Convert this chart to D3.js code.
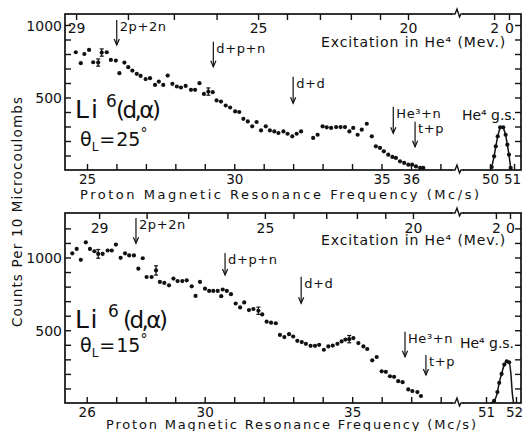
<!DOCTYPE html>
<html>
<head>
<meta charset="utf-8">
<script src="https://cdn.jsdelivr.net/npm/d3@7"></script>
<style>
  body { margin: 0; background: #fff; }
  svg { display: block; background: #fff; }
  text { font-family: "DejaVu Sans", sans-serif; fill: #111; }
</style>
</head>
<body>
<svg id="chart" width="523" height="431"></svg>
<script>
// ---- Li6(d,alpha) spectrum, theta_L = 25 deg ----
const topFreq = [24.62,24.79,24.91,25.07,25.21,25.38,25.50,25.67,25.81,25.98,26.10,26.27,26.40,26.54,26.69,26.82,26.99,27.14,27.31,27.44,27.59,27.74,27.90,28.05,28.19,28.35,28.53,28.67,28.82,28.97,29.12,29.27,29.40,29.55,29.71,29.86,30.03,30.17,30.31,30.46,30.61,30.76,30.91,31.07,31.21,31.36,31.50,31.67,31.81,31.97,32.12,32.27,32.68,32.83,33.00,33.14,33.29,33.46,33.61,33.76,33.91,34.04,34.19,34.33,34.50,34.67,34.81,34.95,35.08,35.23,35.37,35.49,35.63,35.77,35.91,36.04,36.17,36.31,36.42];
const topCounts = [812,737,800,828,743,741,810,812,759,755,668,741,709,686,663,649,627,633,587,610,587,651,594,576,569,580,553,553,599,525,541,537,480,472,445,431,404,400,353,335,301,331,273,301,273,266,255,266,250,232,250,266,221,243,301,294,290,296,296,296,266,290,243,278,319,232,163,152,129,106,90,83,60,49,37,37,25,14,14];
const topErrFreq = [25.38, 25.50, 29.12];
const topErrCounts = [741, 810, 541];
const topErrSize = [25, 25, 25];
// He4 ground-state peak
const topPeakFreq = [50.07,50.17,50.24,50.32,50.42,50.55,50.65,50.72,50.79,50.86];
const topPeakCounts = [20,94,163,232,294,294,243,175,106,14];
const topFitFreq = [50.0,50.07,50.17,50.24,50.32,50.42,50.55,50.65,50.72,50.79,50.86,50.9];
const topFitCounts = [0,20,94,163,232,294,294,243,175,106,14,0];
// reaction thresholds
const topReactLabel = ["2p+2n","d+p+n","d+d","He³+n","t+p"];
const topReactFreq = [26.01, 29.29, 32.0, 35.4, 36.14];
const topReactFrom = [1034, 885, 643, 437, 333];
const topReactTo = [862, 712, 460, 253, 161];
// excitation energy in He4 (MeV) along the upper edge
const topExcValue = [29,28,27,26,25,24,23,22,21,20,2,0];
const topExcFreq = [24.63,26.39,27.95,29.40,30.81,31.79,32.91,33.96,34.95,35.90,50.17,50.79];

// ---- Li6(d,alpha) spectrum, theta_L = 15 deg ----
const bottomFreq = [25.51,25.66,25.80,25.97,26.11,26.26,26.39,26.54,26.71,26.85,26.99,27.15,27.30,27.44,27.60,27.75,27.90,28.03,28.20,28.35,28.48,28.63,28.79,28.94,29.08,29.24,29.39,29.56,29.69,29.84,30.01,30.15,30.29,30.44,30.56,30.61,30.75,30.89,31.05,31.20,31.34,31.50,31.65,31.82,31.95,32.10,32.25,32.41,32.55,32.70,32.86,33.00,33.14,33.29,33.43,33.59,33.74,33.88,34.04,34.19,34.34,34.50,34.64,34.77,34.90,35.04,35.21,35.38,35.51,35.68,35.83,36.00,36.14,36.28,36.42,36.56,36.71,36.90,37.04,37.21,37.33];
const bottomCounts = [1029,1059,984,1104,1059,1043,1025,1025,1048,1048,1089,998,1029,1014,1014,923,995,866,866,911,832,825,809,855,838,838,843,802,736,832,786,770,770,770,734,780,770,748,684,657,691,639,646,634,609,559,552,548,468,453,473,457,427,419,407,393,393,400,366,389,395,407,423,436,439,446,412,389,371,293,316,218,214,184,180,150,143,93,82,75,48];
const bottomErrFreq = [26.39, 28.35, 31.82, 34.90];
const bottomErrCounts = [1025, 911, 634, 439];
const bottomErrSize = [30, 32, 25, 25];
const bottomPeakFreq = [51.27,51.38,51.44,51.52,51.61,51.69,51.77];
const bottomPeakCounts = [14,75,139,200,264,286,280];
const bottomFitFreq = [51.15,51.27,51.38,51.44,51.52,51.61,51.69,51.77,51.83,51.88,51.92];
const bottomFitCounts = [0,14,75,139,200,264,286,280,200,60,0];
const bottomReactLabel = ["2p+2n","d+p+n","d+d","He³+n","t+p"];
const bottomReactFreq = [27.67, 30.69, 33.27, 36.79, 37.5];
const bottomReactFrom = [1271, 1031, 868, 490, 330];
const bottomReactTo = [1098, 880, 685, 318, 192];
const bottomExcValue = [29,28,27,26,25,24,23,22,21,20,2,0];
const bottomExcFreq = [26.42,28.03,29.44,30.77,32.04,33.01,34.12,35.16,36.12,37.06,51.33,51.8];

// axis labels
const freqTitle = "Proton Magnetic Resonance Frequency (Mc/s)";
const countTitle = "Counts Per 10 Microcoulombs";
const topFreqTicks = [25,26,27,28,29,30,31,32,33,34,35,36,37,50,51];
const topFreqLabels = [25,30,35,36,50,51];
const bottomFreqTicks = [26,27,28,29,30,31,32,33,34,35,36,37,38,51,52];
const bottomFreqLabels = [26,30,35,51,52];
const excLabels = [29,25,20,2,0];

const svg = d3.select("#chart");

function drawPanel(p) {
  const g = svg.append("g");
  const x = d3.scaleLinear()
    .domain(p.xDomain)
    .range([p.left, p.breakX, p.breakX, p.right]);
  const y = d3.scaleLinear().domain([0, 1000]).range([p.bottom, p.y1000]);
  const yMax = y.invert(p.top);

  // frame
  g.append("rect")
    .attr("x", p.left).attr("y", p.top)
    .attr("width", p.right - p.left).attr("height", p.bottom - p.top)
    .attr("fill", "none").attr("stroke", "#111").attr("stroke-width", 1.7);

  // axis break marks on the frame
  [p.top, p.bottom].forEach(yy => {
    g.append("rect").attr("x", p.breakX - 5).attr("y", yy - 2)
      .attr("width", 11).attr("height", 4).attr("fill", "#fff");
    g.append("path")
      .attr("d", `M${p.breakX - 6},${yy} H${p.breakX - 2} L${p.breakX},${yy - 5} L${p.breakX + 2.5},${yy + 3} L${p.breakX + 4},${yy} H${p.breakX + 7}`)
      .attr("fill", "none").attr("stroke", "#111").attr("stroke-width", 1.4);
  });

  const yTicks = d3.range(100, yMax - 20, 100);
  const styleAxis = sel => {
    sel.select(".domain").remove();
    sel.selectAll(".tick line").attr("stroke", "#111").attr("stroke-width", 1.4);
    sel.selectAll("text").style("font-size", "14px").attr("fill", "#111");
  };

  // counts axes (ticks inward on both sides)
  g.append("g").attr("transform", `translate(${p.left},0)`)
    .call(d3.axisLeft(y).tickValues(yTicks).tickSize(-6).tickPadding(3)
      .tickFormat(d => d % 500 === 0 ? d : ""))
    .call(styleAxis)
    .call(s => s.selectAll("text").attr("dy", "0.36em"));
  g.append("g").attr("transform", `translate(${p.right},0)`)
    .call(d3.axisRight(y).tickValues(yTicks).tickSize(-6).tickFormat(""))
    .call(styleAxis);

  // frequency axis
  g.append("g").attr("transform", `translate(0,${p.bottom})`)
    .call(d3.axisBottom(x).tickValues(p.freqTicks).tickSize(-6)
      .tickFormat(d => p.freqLabels.includes(d) ? d : ""))
    .call(styleAxis)
    .call(s => s.selectAll("text").attr("y", 13.5).attr("dy", 0).style("font-size", "13.5px")
      .attr("dx", d => d === p.freqTicks[p.freqTicks.length - 1] ? -2 : 0));

  // excitation axis along the top edge
  g.append("g").attr("transform", `translate(0,${p.top})`)
    .call(d3.axisTop(x).tickValues(p.excFreq).tickSize(-6)
      .tickFormat((d, i) => excLabels.includes(p.excValue[i]) ? p.excValue[i] : ""))
    .call(styleAxis)
    .call(s => s.selectAll("text").attr("y", p.excLabelDy).attr("dy", 0));

  g.append("text")
    .attr("x", 321).attr("y", p.excTitleY)
    .style("font-size", "14px").style("letter-spacing", "0.9px")
    .text("Excitation in He⁴ (Mev.)");

  g.append("text")
    .attr("x", p.titleX0).attr("y", p.titleY)
    .attr("textLength", p.titleX1 - p.titleX0).attr("lengthAdjust", "spacing")
    .style("font-size", "13px")
    .text(freqTitle);

  // counts
  g.append("g").selectAll("circle")
    .data(p.freq.map((f, i) => [f, p.counts[i]]))
    .join("circle")
    .attr("cx", d => x(d[0])).attr("cy", d => y(d[1])).attr("r", 2.1)
    .attr("fill", "#111");

  // statistical error bars
  const eb = g.append("g").attr("stroke", "#111").attr("stroke-width", 1.2);
  p.errFreq.forEach((f, i) => {
    const cx = x(f), y0 = y(p.errCounts[i] - p.errSize[i]), y1 = y(p.errCounts[i] + p.errSize[i]);
    eb.append("line").attr("x1", cx).attr("x2", cx).attr("y1", y0).attr("y2", y1);
    eb.append("line").attr("x1", cx - 2).attr("x2", cx + 2).attr("y1", y0).attr("y2", y0);
    eb.append("line").attr("x1", cx - 2).attr("x2", cx + 2).attr("y1", y1).attr("y2", y1);
  });

  // ground-state peak and its fitted line
  g.append("path")
    .datum(p.fitFreq.map((f, i) => [f, p.fitCounts[i]]))
    .attr("d", d3.line().x(d => x(d[0])).y(d => y(d[1])).curve(p.fitCurve))
    .attr("fill", "none").attr("stroke", "#111").attr("stroke-width", 1.5);
  g.append("g").selectAll("circle")
    .data(p.peakFreq.map((f, i) => [f, p.peakCounts[i]]))
    .join("circle")
    .attr("cx", d => x(d[0])).attr("cy", d => y(d[1])).attr("r", 2.1)
    .attr("fill", "#111");

  // threshold arrows
  p.reactFreq.forEach((f, i) => {
    const ax = x(f), y0 = y(p.reactFrom[i]), y1 = y(p.reactTo[i]);
    g.append("line").attr("x1", ax).attr("x2", ax).attr("y1", y0).attr("y2", y1)
      .attr("stroke", "#111").attr("stroke-width", 1.2);
    g.append("path").attr("d", `M${ax - 2.6},${y1 - 6} L${ax},${y1} L${ax + 2.6},${y1 - 6}`)
      .attr("fill", "none").attr("stroke", "#111").attr("stroke-width", 1.2);
    g.append("text").attr("x", ax + 3).attr("y", y0 + 11)
      .style("font-size", "13px").style("letter-spacing", "0.6px")
      .text(p.reactLabel[i]);
  });

  // He4 ground state label
  g.append("text").attr("x", p.gsX).attr("y", p.gsY)
    .attr("textLength", 54).attr("lengthAdjust", "spacing")
    .style("font-size", "14px")
    .text("He⁴ g.s.");

  // reaction and angle
  const li = g.append("text").attr("x", 75).attr("y", p.liY).style("font-size", "25px");
  li.append("tspan").text("L");
  li.append("tspan").attr("dx", p.iGap).text("i");
  li.append("tspan").attr("x", p.sixX).attr("dy", -11).style("font-size", "17px").text("6");
  li.append("tspan").attr("x", p.dX).attr("dy", 11).attr("textLength", p.dW)
    .attr("lengthAdjust", "spacing").style("font-size", "23px").text("(d,α)");

  const th = g.append("text").attr("x", 80).attr("y", p.thY).style("font-size", "19px");
  th.append("tspan").text("θ");
  th.append("tspan").attr("dy", 5).style("font-size", "12px").text("L");
  th.append("tspan").attr("dy", -5).attr("dx", 1).text("=");
  th.append("tspan").attr("dx", 1).text(p.angle);
  th.append("tspan").attr("dy", -8).style("font-size", "14px").text("°");
}

drawPanel({
  left: 65, right: 521, top: 14, bottom: 170, y1000: 25, breakX: 457,
  xDomain: [24.253, 37.564, 48.625, 51.29],
  freq: topFreq, counts: topCounts,
  errFreq: topErrFreq, errCounts: topErrCounts, errSize: topErrSize,
  peakFreq: topPeakFreq, peakCounts: topPeakCounts,
  fitFreq: topFitFreq, fitCounts: topFitCounts, fitCurve: d3.curveLinear,
  reactLabel: topReactLabel, reactFreq: topReactFreq, reactFrom: topReactFrom, reactTo: topReactTo,
  excValue: topExcValue, excFreq: topExcFreq, excLabelDy: 19, excTitleY: 47,
  freqTicks: topFreqTicks, freqLabels: topFreqLabels,
  titleX0: 80, titleX1: 479, titleY: 199,
  gsX: 462, gsY: 120,
  liY: 118, iGap: 2, sixX: 106, dX: 116, dW: 45, thY: 146, angle: "25"
});

drawPanel({
  left: 65, right: 521, top: 213, bottom: 403, y1000: 257.5, breakX: 457,
  xDomain: [25.264, 38.553, 50.033, 52.167],
  freq: bottomFreq, counts: bottomCounts,
  errFreq: bottomErrFreq, errCounts: bottomErrCounts, errSize: bottomErrSize,
  peakFreq: bottomPeakFreq, peakCounts: bottomPeakCounts,
  fitFreq: bottomFitFreq, fitCounts: bottomFitCounts, fitCurve: d3.curveMonotoneX,
  reactLabel: bottomReactLabel, reactFreq: bottomReactFreq, reactFrom: bottomReactFrom, reactTo: bottomReactTo,
  excValue: bottomExcValue, excFreq: bottomExcFreq, excLabelDy: 20, excTitleY: 245,
  freqTicks: bottomFreqTicks, freqLabels: bottomFreqLabels,
  titleX0: 106, titleX1: 476, titleY: 429,
  gsX: 460, gsY: 348,
  liY: 328, iGap: 1.5, sixX: 108, dX: 123, dW: 45, thY: 352, angle: "15"
});

// shared counts title
svg.append("text")
  .attr("transform", "translate(22,212) rotate(-90)")
  .attr("text-anchor", "middle")
  .attr("textLength", 230).attr("lengthAdjust", "spacing")
  .style("font-size", "13.5px")
  .text(countTitle);
</script>
</body>
</html>
